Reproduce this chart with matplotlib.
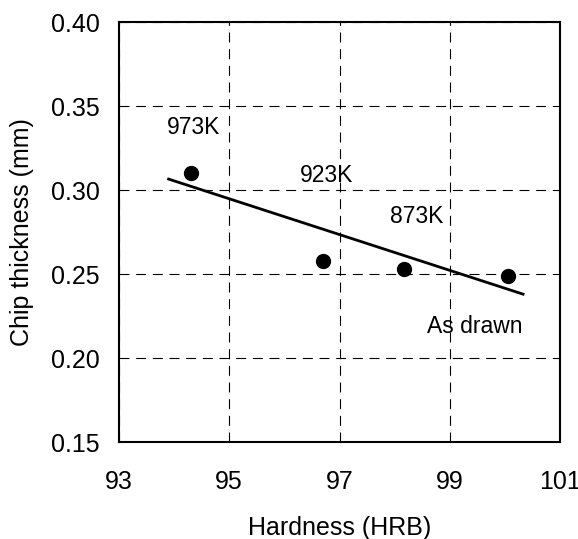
import matplotlib
matplotlib.use('Agg')
import matplotlib.pyplot as plt
import numpy as np

plt.rcParams['font.family'] = ['Liberation Sans', 'DejaVu Sans']

# measured points
hardness = [94.3, 96.7, 98.17, 100.05]
chip = [0.310, 0.258, 0.253, 0.249]
labels = ['973K', '923K', '873K', 'As drawn']
label_x = [94.35, 96.77, 98.4, 99.45]
label_y = [0.337, 0.3085, 0.284, 0.2186]

# fitted line end points
fit_x = [93.9, 100.33]
fit_y = [0.3065, 0.238]

xticks = [93, 95, 97, 99, 101]
yticks = [0.15, 0.20, 0.25, 0.30, 0.35, 0.40]

fig = plt.figure(figsize=(5.78, 5.39), dpi=100)
ax = fig.add_axes([119/578, 1 - 442/539, (560-119)/578, (442-22)/539])

ax.plot(fit_x, fit_y, color='black', linewidth=2)
ax.scatter(hardness, chip, s=100, color='black', zorder=3)

for t, x, y in zip(labels, label_x, label_y):
    ax.text(x, y, t, fontsize=16.5, ha='center', va='center')

ax.set_xlim(93, 101)
ax.set_ylim(0.15, 0.40)
ax.set_xticks(xticks)
ax.set_yticks(yticks)
ax.set_yticklabels([f'{v:.2f}' for v in yticks])
ax.tick_params(length=0, labelsize=18)
ax.tick_params(axis='x', pad=20)
ax.tick_params(axis='y', pad=14)
ax.grid(True, linestyle=(0, (9, 6)), color='black', linewidth=0.8)
for s in ax.spines.values():
    s.set_linewidth(1.5)

ax.set_xlabel('Hardness (HRB)', fontsize=18, labelpad=16)
ax.set_ylabel('Chip thickness (mm)', fontsize=18, labelpad=12)

plt.savefig('out.png', dpi=100)
